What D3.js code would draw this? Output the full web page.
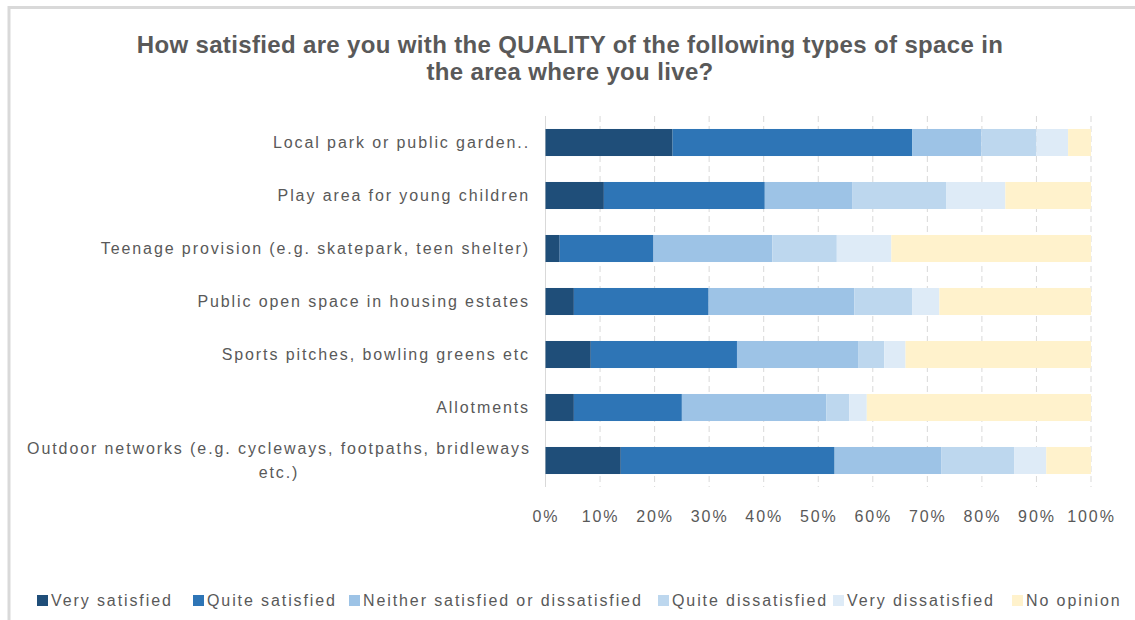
<!DOCTYPE html>
<html>
    <head>
        <meta charset="utf-8">
        <title>Quality of space satisfaction</title>
        <script src="https://cdn.jsdelivr.net/npm/d3@7"></script>
        <style>
            body { margin: 0; background: #fff; }
            svg text { font-family: "Liberation Sans", Arial, sans-serif; fill: #595959; }
        </style>
    </head>
    <body>
        <script>
            const categories = [
                "Local park or public garden..",
                "Play area for young children",
                "Teenage provision (e.g. skatepark, teen shelter)",
                "Public open space in housing estates",
                "Sports pitches, bowling greens etc",
                "Allotments",
                "Outdoor networks (e.g. cycleways, footpaths, bridleways|etc.)"
            ];
            const seriesNames = ["Very satisfied", "Quite satisfied", "Neither satisfied or dissatisfied", "Quite dissatisfied", "Very dissatisfied", "No opinion"];
            const verySatisfied     = [23.3, 10.7,  2.6,  5.2,  8.3,  5.2, 13.8];
            const quiteSatisfied    = [43.9, 29.5, 17.2, 24.7, 26.8, 19.8, 39.2];
            const neither           = [12.7, 16.0, 21.8, 26.7, 22.3, 26.5, 19.6];
            const quiteDissatisfied = [10.1, 17.3, 11.8, 10.6,  4.7,  4.2, 13.3];
            const veryDissatisfied  = [ 5.8, 10.8, 10.0,  5.0,  3.9,  3.2,  5.9];
            const noOpinion         = [ 4.2, 15.7, 36.6, 27.8, 34.0, 41.1,  8.2];
            const tickValues = [0, 10, 20, 30, 40, 50, 60, 70, 80, 90, 100];
            const colors = ["#1f4e79", "#2e75b6", "#9dc3e6", "#bdd7ee", "#deebf7", "#fff2cc"];

            const allSeries = [verySatisfied, quiteSatisfied, neither, quiteDissatisfied, veryDissatisfied, noOpinion];
            const rows = categories.map((c, i) => {
                const r = { category: c };
                seriesNames.forEach((s, j) => r[s] = allSeries[j][i]);
                return r;
            });

            const w = 1135, h = 620;
            const margin = { top: 116, right: 44, bottom: 133, left: 545.5 };
            const spacing = "1.9px";

            const svg = d3.select("body")
                .append("svg")
                .attr("width", w)
                .attr("height", h);

            // outer chart frame
            svg.append("rect")
                .attr("x", 9)
                .attr("y", 7.5)
                .attr("width", 1300)
                .attr("height", 800)
                .attr("fill", "none")
                .attr("stroke", "#d9d9d9")
                .attr("stroke-width", 3);

            const xScale = d3.scaleLinear()
                .domain([0, 100])
                .range([margin.left, w - margin.right]);
            const yScale = d3.scaleBand()
                .domain(categories)
                .range([margin.top, h - margin.bottom])
                .paddingInner(0.49)
                .paddingOuter(0.245);

            // gridlines
            svg.append("g")
                .selectAll("line")
                .data(tickValues.slice(1))
                .enter()
                .append("line")
                .attr("x1", d => xScale(d))
                .attr("x2", d => xScale(d))
                .attr("y1", margin.top)
                .attr("y2", h - margin.bottom)
                .attr("stroke", "#d9d9d9")
                .attr("stroke-width", 1)
                .attr("stroke-dasharray", "6,4");

            svg.append("line")
                .attr("x1", xScale(0))
                .attr("x2", xScale(0))
                .attr("y1", margin.top)
                .attr("y2", h - margin.bottom)
                .attr("stroke", "#d9d9d9")
                .attr("stroke-width", 1);

            const stack = d3.stack().keys(seriesNames);
            const stacked = stack(rows);

            svg.append("g")
                .selectAll("g")
                .data(stacked)
                .enter()
                .append("g")
                .attr("fill", (d, i) => colors[i])
                .selectAll("rect")
                .data(d => d)
                .enter()
                .append("rect")
                .attr("x", d => xScale(d[0]))
                .attr("width", d => xScale(d[1]) - xScale(d[0]))
                .attr("y", d => yScale(d.data.category))
                .attr("height", yScale.bandwidth());

            // x axis tick labels
            const xAxis = svg.append("g")
                .attr("transform", "translate(0," + (h - margin.bottom) + ")")
                .call(d3.axisBottom(xScale).tickValues(tickValues).tickFormat(d => d + "%").tickSize(0).tickPadding(24));
            xAxis.select(".domain").remove();
            xAxis.selectAll("text")
                .style("font-size", "16px")
                .style("letter-spacing", spacing)
                .attr("fill", "#595959");

            // category labels
            const yAxis = svg.append("g");
            categories.forEach(c => {
                const lines = c.split("|");
                const cy = yScale(c) + yScale.bandwidth() / 2;
                const t = yAxis.append("text")
                    .attr("y", cy - (lines.length - 1) * 12)
                    .attr("dy", "0.35em")
                    .style("font-size", "16px")
                    .style("letter-spacing", spacing);
                if (lines.length === 1) {
                    t.attr("x", 530).attr("text-anchor", "end").text(c);
                } else {
                    t.attr("text-anchor", "middle");
                    lines.forEach((l, k) => {
                        t.append("tspan")
                            .attr("x", 279)
                            .attr("dy", k === 0 ? "0.35em" : "24px")
                            .text(l);
                    });
                    t.attr("dy", null);
                }
            });

            // title
            const title = svg.append("text")
                .attr("text-anchor", "middle")
                .style("font-size", "24px")
                .style("font-weight", "bold")
                .style("letter-spacing", "0.35px");
            title.append("tspan").attr("x", 570).attr("y", 53).text("How satisfied are you with the QUALITY of the following types of space in");
            title.append("tspan").attr("x", 570).attr("y", 80).text("the area where you live?");

            // legend
            const legendX = [37, 193, 349, 658, 833, 1012];
            const legend = svg.append("g");
            seriesNames.forEach((s, i) => {
                legend.append("rect")
                    .attr("x", legendX[i])
                    .attr("y", 595)
                    .attr("width", 11)
                    .attr("height", 11)
                    .attr("fill", colors[i]);
                legend.append("text")
                    .attr("x", legendX[i] + 14)
                    .attr("y", 600)
                    .attr("dy", "0.35em")
                    .style("font-size", "16px")
                    .style("letter-spacing", spacing)
                    .text(s);
            });
        </script>
    </body>
</html>
